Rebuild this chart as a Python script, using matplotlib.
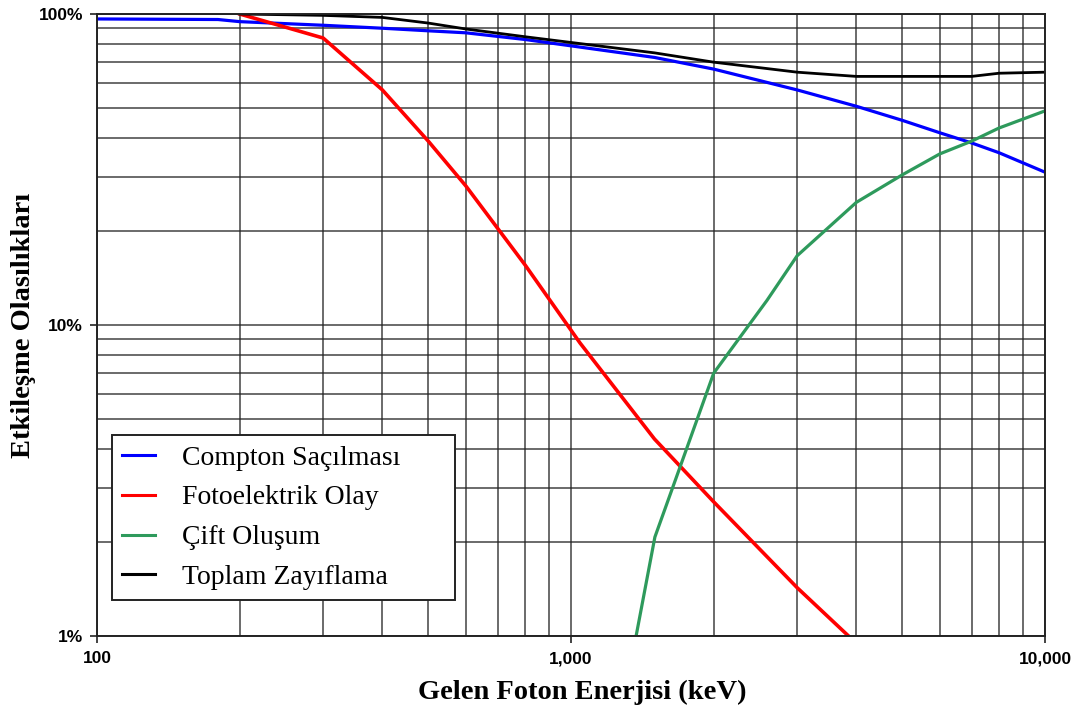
#!/usr/bin/env python3
"""Photon interaction probabilities vs incident photon energy."""

import matplotlib
matplotlib.use("Agg")
import matplotlib.pyplot as plt
from matplotlib.ticker import FixedLocator, FuncFormatter, NullFormatter

# Compton scattering (keV, %)
compton_e = [100, 180, 200, 300, 400, 500, 600, 800, 1000, 1500, 2000, 3000, 4000, 5000, 6000, 7000, 8000, 10000]
compton_p = [96.4, 96.0, 94.5, 92.0, 90.0, 88.3, 87.0, 82.8, 79.0, 72.5, 66.5, 57.0, 50.5, 45.5, 41.5, 38.5, 35.8, 31.0]

# Photoelectric effect
photo_e = [200, 300, 400, 500, 600, 800, 1045, 1500, 2000, 3000, 3850]
photo_p = [100.0, 83.7, 57.0, 39.0, 28.0, 15.6, 8.75, 4.3, 2.7, 1.43, 1.0]

# Pair production
pair_e = [1372, 1503, 1698, 2000, 2591, 3000, 4000, 5000, 6000, 7000, 8000, 10000]
pair_p = [1.0, 2.08, 3.49, 7.0, 12.0, 16.7, 24.8, 30.4, 35.5, 39.0, 43.0, 48.8]

# Total attenuation
total_e = [200, 300, 400, 500, 600, 800, 1000, 1500, 2000, 3000, 4000, 5000, 7000, 8000, 10000]
total_p = [100.0, 99.0, 97.5, 93.5, 89.5, 84.5, 81.0, 75.0, 70.0, 65.0, 63.0, 63.0, 63.0, 64.5, 65.0]

labels = ["Compton Saçılması", "Fotoelektrik Olay", "Çift Oluşum", "Toplam Zayıflama"]
x_ticks = [100, 1000, 10000]
x_tick_labels = ["100", "1,000", "10,000"]
y_ticks = [1, 10, 100]
y_tick_labels = ["1%", "10%", "100%"]

fig = plt.figure(figsize=(10.8, 7.11), dpi=100)
ax = fig.add_axes([97 / 1080, 75 / 711, 948 / 1080, 622 / 711])

ax.set_xscale("log")
ax.set_yscale("log")
ax.set_xlim(100, 10000)
ax.set_ylim(1, 100)

# grid on every major and minor decade line
ax.grid(True, which="both", color="#222222", linewidth=1.1, alpha=0.85)
ax.set_axisbelow(True)

l1, = ax.plot(compton_e, compton_p, color="#0000FF", linewidth=2.3)
l2, = ax.plot(photo_e, photo_p, color="#FF0000", linewidth=2.6)
l3, = ax.plot(pair_e, pair_p, color="#2E9A5C", linewidth=2.3)
l4, = ax.plot(total_e, total_p, color="black", linewidth=2.0)

ax.xaxis.set_major_locator(FixedLocator(x_ticks))
ax.xaxis.set_major_formatter(FuncFormatter(lambda v, p: x_tick_labels[x_ticks.index(round(v))] if round(v) in x_ticks else ""))
ax.xaxis.set_minor_formatter(NullFormatter())
ax.yaxis.set_major_locator(FixedLocator(y_ticks))
ax.yaxis.set_major_formatter(FuncFormatter(lambda v, p: y_tick_labels[y_ticks.index(round(v))] if round(v) in y_ticks else ""))
ax.yaxis.set_minor_formatter(NullFormatter())

ax.tick_params(which="major", direction="out", length=5, width=1.2, color="#222222")
ax.tick_params(which="minor", length=0)
for lab in ax.get_xticklabels() + ax.get_yticklabels():
    lab.set_fontfamily("Liberation Sans")
    lab.set_fontweight("bold")
    lab.set_fontsize(12.5)
ax.tick_params(axis="x", pad=6)
ax.tick_params(axis="y", pad=5)

for side in ["top", "right", "left", "bottom"]:
    ax.spines[side].set_color("#222222")
    ax.spines[side].set_linewidth(1.4)

ax.set_xlabel("Gelen Foton Enerjisi (keV)", fontfamily="Liberation Serif", fontweight="bold", fontsize=20.5)
ax.set_ylabel("Etkileşme Olasılıkları", fontfamily="Liberation Serif", fontweight="bold", fontsize=20.5)
ax.xaxis.set_label_coords(0.512, -0.07)
ax.yaxis.set_label_coords(-0.064, 0.5)

leg = ax.legend(
    [l1, l2, l3, l4],
    labels,
    loc="lower left",
    bbox_to_anchor=(0.016, 0.058, 343 / 948, 164 / 622),
    mode="expand",
    borderaxespad=0,
    prop={"family": "Liberation Serif", "size": 20},
    handlelength=1.2,
    handletextpad=0.95,
    labelspacing=0.52,
    borderpad=0.35,
    fancybox=False,
    framealpha=1,
    edgecolor="#222222",
)
leg.get_frame().set_linewidth(1.4)
for h in leg.get_lines():
    h.set_linewidth(2.2)

fig.savefig("out.png", dpi=100)
